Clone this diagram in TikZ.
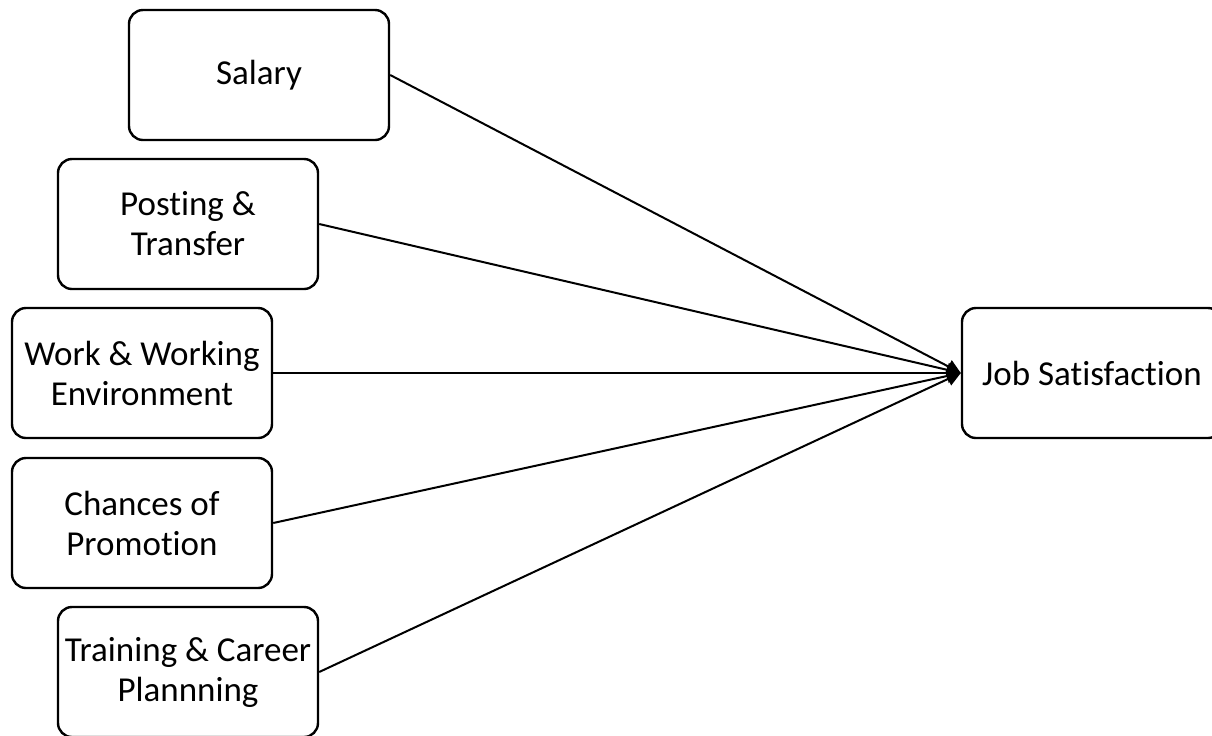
\documentclass[tikz,border=0pt]{standalone}
\usepackage{fontspec}
\setmainfont{Carlito}[Ligatures=NoCommon]
\usepackage{tikz}
\usetikzlibrary{positioning,calc,arrows.meta}

\begin{document}
\begin{tikzpicture}[x=0.5pt,y=-0.5pt,
    factor/.style={draw, line width=1.2pt, rounded corners=7pt, align=center,
        minimum width=130pt, minimum height=65pt, inner sep=2pt, font=\fontsize{17.5}{20}\selectfont},
    link/.style={line width=1pt, -{Triangle[length=7pt,width=7pt]}}]
    \useasboundingbox (0,0) rectangle (1212,735);
    \clip (0,0) rectangle (1212,735);

    % Factors
    \node[factor] (salary)   at (259,75)  {Salary};
    \node[factor] (posting)  at (188,224) {Posting \&\\Transfer};
    \node[factor] (work)     at (142,373) {Work \& Working\\Environment};
    \node[factor] (chances)  at (142,523) {Chances of\\Promotion};
    \node[factor] (training) at (188,672) {Training \& Career\\Plannning};

    % Outcome
    \node[factor] (jobsat) at (1092,373) {Job Satisfaction};

    % Links
    \foreach \n in {salary, posting, work, chances, training} {
        \draw[link] (\n.east) -- (jobsat.west);
    }
\end{tikzpicture}
\end{document}
